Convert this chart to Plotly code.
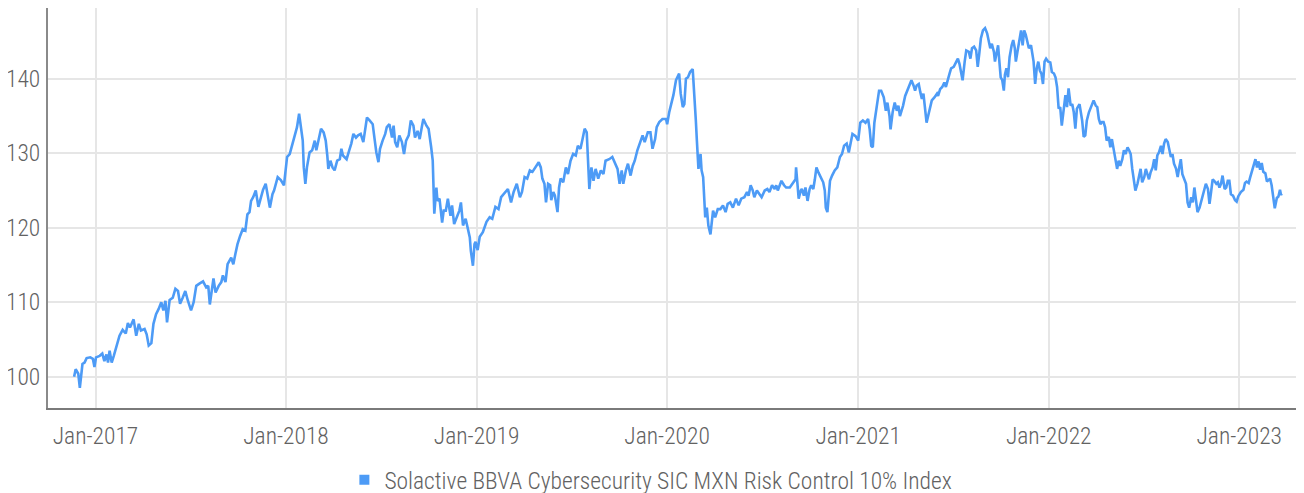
import plotly.graph_objects as go

series_name = "Solactive BBVA Cybersecurity SIC MXN Risk Control 10% Index"

dates = [
"2016-11-21","2016-11-24","2016-11-29","2016-12-02","2016-12-07","2016-12-11","2016-12-15","2016-12-22","2016-12-27","2016-12-30",
"2017-01-02","2017-01-09","2017-01-14","2017-01-18","2017-01-22","2017-01-25","2017-01-28","2017-02-01","2017-02-05","2017-02-10",
"2017-02-16","2017-02-22","2017-02-28","2017-03-04","2017-03-08","2017-03-15","2017-03-20","2017-03-25","2017-03-29","2017-04-05",
"2017-04-09","2017-04-13","2017-04-18","2017-04-22","2017-04-27","2017-05-02","2017-05-07","2017-05-11","2017-05-15","2017-05-18",
"2017-05-23","2017-05-29","2017-06-03","2017-06-08","2017-06-12","2017-06-17","2017-06-22","2017-06-27","2017-07-03","2017-07-08",
"2017-07-13","2017-07-19","2017-07-26","2017-08-01","2017-08-05","2017-08-08","2017-08-12","2017-08-15","2017-08-19","2017-08-25",
"2017-08-30","2017-09-02","2017-09-07","2017-09-11","2017-09-18","2017-09-22","2017-09-26","2017-09-30","2017-10-05","2017-10-10",
"2017-10-15","2017-10-19","2017-10-23","2017-10-26","2017-10-30","2017-11-04","2017-11-09","2017-11-12","2017-11-18","2017-11-23",
"2017-11-28","2017-12-01","2017-12-06","2017-12-09","2017-12-16","2017-12-22","2017-12-28",
"2018-01-03","2018-01-08","2018-01-13","2018-01-18","2018-01-22","2018-01-26","2018-01-29","2018-02-02","2018-02-04","2018-02-07",
"2018-02-10","2018-02-15","2018-02-20","2018-02-25","2018-02-28","2018-03-06","2018-03-09","2018-03-14","2018-03-18","2018-03-21",
"2018-03-23","2018-03-27","2018-03-31","2018-04-04","2018-04-09","2018-04-14","2018-04-17","2018-04-20","2018-04-27","2018-05-02",
"2018-05-06","2018-05-10","2018-05-15","2018-05-19","2018-05-24","2018-05-29","2018-06-01","2018-06-05","2018-06-10","2018-06-16",
"2018-06-20","2018-06-23","2018-06-27","2018-06-30","2018-07-05","2018-07-10","2018-07-13","2018-07-18","2018-07-23","2018-07-26",
"2018-07-29","2018-08-02","2018-08-06","2018-08-11","2018-08-15","2018-08-19","2018-08-24","2018-08-28","2018-09-02","2018-09-05",
"2018-09-10","2018-09-14","2018-09-18","2018-09-21","2018-09-27","2018-10-01","2018-10-06","2018-10-09","2018-10-12","2018-10-16",
"2018-10-18","2018-10-22","2018-10-27","2018-10-30","2018-11-03","2018-11-07","2018-11-12","2018-11-15","2018-11-19","2018-11-25",
"2018-11-29","2018-12-02","2018-12-06","2018-12-11","2018-12-14","2018-12-19","2018-12-21","2018-12-25","2018-12-28","2018-12-30",
"2019-01-03","2019-01-07","2019-01-13","2019-01-20","2019-01-26","2019-01-31","2019-02-06","2019-02-12","2019-02-17","2019-02-23",
"2019-03-02","2019-03-08","2019-03-13","2019-03-19","2019-03-25","2019-03-29","2019-04-03","2019-04-08","2019-04-13","2019-04-18",
"2019-04-24","2019-04-30","2019-05-04","2019-05-07","2019-05-11","2019-05-14","2019-05-18","2019-05-22","2019-05-24","2019-05-28",
"2019-05-31","2019-06-05","2019-06-08","2019-06-11","2019-06-16","2019-06-21","2019-06-25","2019-06-30","2019-07-05","2019-07-10",
"2019-07-14","2019-07-19","2019-07-23","2019-07-27","2019-07-31","2019-08-02","2019-08-05","2019-08-09","2019-08-13","2019-08-17",
"2019-08-22","2019-08-27","2019-09-01","2019-09-05","2019-09-12","2019-09-18","2019-09-23","2019-09-28","2019-10-02","2019-10-06",
"2019-10-09","2019-10-14","2019-10-18","2019-10-23","2019-10-27","2019-10-31","2019-11-05","2019-11-10","2019-11-15","2019-11-19",
"2019-11-25","2019-11-30","2019-12-04","2019-12-09","2019-12-12","2019-12-17","2019-12-23","2019-12-30",
"2020-01-01","2020-01-05","2020-01-10","2020-01-13","2020-01-18","2020-01-21","2020-01-24","2020-01-27","2020-01-31","2020-02-03",
"2020-02-06","2020-02-10","2020-02-14","2020-02-19","2020-02-22","2020-02-25","2020-02-27","2020-03-01","2020-03-05","2020-03-07",
"2020-03-10","2020-03-12","2020-03-14","2020-03-17","2020-03-20","2020-03-24","2020-03-26","2020-03-29","2020-04-02","2020-04-07",
"2020-04-12","2020-04-17","2020-04-22","2020-04-26","2020-05-01","2020-05-06","2020-05-12","2020-05-17","2020-05-22","2020-05-28",
"2020-06-02","2020-06-05","2020-06-09","2020-06-13","2020-06-16","2020-06-21","2020-06-26","2020-06-30","2020-07-06","2020-07-11",
"2020-07-15","2020-07-20","2020-07-25","2020-07-28","2020-07-31","2020-08-07","2020-08-12","2020-08-16","2020-08-23","2020-08-29",
"2020-09-03","2020-09-04","2020-09-06","2020-09-09","2020-09-13","2020-09-15","2020-09-19","2020-09-22","2020-09-26","2020-09-30",
"2020-10-03","2020-10-07","2020-10-10","2020-10-13","2020-10-17","2020-10-21","2020-10-26","2020-10-29","2020-10-31","2020-11-03",
"2020-11-06","2020-11-08","2020-11-12","2020-11-17","2020-11-22","2020-11-27","2020-12-01","2020-12-05","2020-12-10","2020-12-14",
"2020-12-21","2020-12-27",
"2021-01-01","2021-01-05","2021-01-10","2021-01-15","2021-01-20","2021-01-23","2021-01-26","2021-01-29","2021-02-01","2021-02-05",
"2021-02-10","2021-02-14","2021-02-19","2021-02-23","2021-02-26","2021-03-02","2021-03-04","2021-03-08","2021-03-12","2021-03-16",
"2021-03-19","2021-03-22","2021-03-25","2021-03-28","2021-04-01","2021-04-05","2021-04-09","2021-04-13","2021-04-17","2021-04-20",
"2021-04-23","2021-04-27","2021-04-30","2021-05-03","2021-05-06","2021-05-09","2021-05-12","2021-05-16","2021-05-19","2021-05-22",
"2021-05-27","2021-06-01","2021-06-03","2021-06-07","2021-06-11","2021-06-15","2021-06-18","2021-06-21","2021-06-25","2021-06-28",
"2021-07-03","2021-07-08","2021-07-11","2021-07-14","2021-07-17","2021-07-20","2021-07-24","2021-07-27","2021-08-01","2021-08-04",
"2021-08-07","2021-08-11","2021-08-15","2021-08-18","2021-08-21","2021-08-24","2021-08-28","2021-09-01","2021-09-05","2021-09-07",
"2021-09-11","2021-09-14","2021-09-18","2021-09-20","2021-09-23","2021-09-26","2021-09-28","2021-10-01","2021-10-04","2021-10-07",
"2021-10-09","2021-10-12","2021-10-15","2021-10-18","2021-10-22","2021-10-25","2021-10-28","2021-10-30","2021-11-02","2021-11-06",
"2021-11-09","2021-11-12","2021-11-15","2021-11-18","2021-11-21","2021-11-24","2021-11-28","2021-12-01","2021-12-03","2021-12-06",
"2021-12-09","2021-12-12","2021-12-15","2021-12-18","2021-12-21","2021-12-24","2021-12-27","2021-12-31",
"2022-01-04","2022-01-07","2022-01-11","2022-01-14","2022-01-17","2022-01-20","2022-01-23","2022-01-26","2022-01-29","2022-02-02",
"2022-02-05","2022-02-08","2022-02-12","2022-02-15","2022-02-18","2022-02-21","2022-02-24","2022-03-01","2022-03-06","2022-03-09",
"2022-03-12","2022-03-15","2022-03-19","2022-03-22","2022-03-25","2022-03-28","2022-04-01","2022-04-04","2022-04-07","2022-04-10",
"2022-04-13","2022-04-16","2022-04-19","2022-04-22","2022-04-26","2022-04-29","2022-05-02","2022-05-06","2022-05-09","2022-05-12",
"2022-05-15","2022-05-18","2022-05-22","2022-05-25","2022-05-28","2022-06-01","2022-06-04","2022-06-07","2022-06-10","2022-06-13",
"2022-06-16","2022-06-20","2022-06-23","2022-06-26","2022-06-29","2022-07-03","2022-07-06","2022-07-09","2022-07-12","2022-07-15",
"2022-07-19","2022-07-22","2022-07-25","2022-07-28","2022-07-31","2022-08-04","2022-08-07","2022-08-10","2022-08-13","2022-08-17",
"2022-08-20","2022-08-23","2022-08-26","2022-08-29","2022-09-02","2022-09-05","2022-09-08","2022-09-11","2022-09-14","2022-09-18",
"2022-09-21","2022-09-24","2022-09-27","2022-10-01","2022-10-04","2022-10-07","2022-10-10","2022-10-13","2022-10-17","2022-10-20",
"2022-10-23","2022-10-26","2022-10-29","2022-11-02","2022-11-05","2022-11-08","2022-11-11","2022-11-14","2022-11-18","2022-11-21",
"2022-11-24","2022-11-27","2022-11-30","2022-12-04","2022-12-07","2022-12-10","2022-12-13","2022-12-16","2022-12-20","2022-12-24",
"2022-12-27","2022-12-30",
"2023-01-04","2023-01-09","2023-01-12","2023-01-15","2023-01-19","2023-01-22","2023-01-25","2023-01-28","2023-02-01","2023-02-04",
"2023-02-07","2023-02-10","2023-02-13","2023-02-16","2023-02-20","2023-02-23","2023-02-26","2023-03-01","2023-03-04","2023-03-07",
"2023-03-10","2023-03-14","2023-03-17","2023-03-20","2023-03-22","2023-03-23",
]

index_values = [
100.0,101.0,100.4,98.5,101.7,101.9,102.5,102.6,102.4,101.3,
102.6,102.8,103.1,102.1,103.0,101.9,103.5,101.9,102.8,103.9,
105.5,106.3,105.8,107.2,106.6,107.7,105.5,107.1,106.2,106.4,
105.7,104.2,104.5,107.1,108.4,109.1,110.0,108.9,110.2,107.3,
110.3,110.6,111.8,111.5,109.8,110.6,111.5,110.2,108.9,110.0,
112.2,112.5,112.8,112.0,112.2,109.7,112.0,113.2,111.3,112.2,
112.7,113.6,112.7,115.1,116.0,115.1,116.5,117.8,118.9,119.8,
119.6,121.8,122.1,123.6,124.1,125.0,122.8,123.6,125.1,125.9,
123.6,122.7,124.5,125.0,126.8,126.4,125.7,
129.5,129.9,131.3,132.4,133.5,135.3,133.5,131.7,128.1,125.9,
128.1,130.1,130.4,131.7,130.4,132.4,133.3,132.8,131.7,129.7,
127.9,129.0,128.1,127.7,129.0,129.2,130.6,129.7,129.2,130.4,
131.3,132.6,132.1,132.4,132.6,131.5,133.0,134.8,134.4,133.9,
131.7,130.1,128.8,130.6,131.7,132.6,133.5,133.9,132.1,133.7,
131.5,130.8,132.4,131.5,129.9,131.7,132.4,134.4,133.7,132.1,
133.0,131.9,133.5,134.6,133.7,133.3,130.8,129.0,121.9,125.4,
123.6,123.9,120.7,122.3,122.3,123.9,121.6,123.0,120.5,121.6,
122.3,123.4,120.3,121.2,120.1,118.7,116.9,114.9,117.8,118.1,
117.0,118.8,119.4,120.8,121.4,121.2,122.8,122.5,124.1,124.6,
125.2,123.4,124.8,125.9,124.1,124.8,126.8,126.6,127.7,127.5,
128.1,128.8,128.1,126.6,125.9,123.4,125.9,125.7,123.7,124.8,
124.3,122.1,125.4,126.6,126.1,128.1,127.2,129.0,129.9,129.7,
131.0,130.6,131.9,133.3,132.8,129.9,125.2,128.1,126.3,127.9,
126.6,127.7,127.2,129.0,129.2,129.5,128.8,127.9,125.9,127.7,
125.9,127.7,128.6,127.0,128.3,129.0,130.4,131.3,132.4,131.5,
132.8,132.8,130.6,131.9,133.5,134.2,134.6,134.6,
133.9,135.5,136.9,137.8,139.8,140.4,140.7,138.0,136.2,136.6,
140.0,140.2,140.9,141.3,138.4,134.4,131.7,127.9,129.9,127.7,
126.8,124.5,121.4,122.7,120.3,119.1,120.5,122.3,121.4,122.5,
122.5,123.0,122.1,123.2,123.4,122.7,123.9,123.0,123.9,124.1,
124.8,124.3,125.7,125.0,124.1,125.0,124.5,124.1,125.0,125.2,
124.8,125.7,125.2,125.7,125.0,126.3,125.7,125.4,125.4,126.1,
126.5,128.1,125.9,123.9,125.0,125.2,124.3,125.4,123.6,125.2,
125.7,125.2,126.5,128.1,127.4,126.8,126.1,125.0,122.7,122.1,
124.5,126.3,127.0,127.7,128.1,129.5,129.9,131.0,131.3,130.1,
132.6,132.3,
131.7,134.1,134.4,134.1,134.6,133.2,131.0,130.8,134.1,135.9,
138.4,138.4,137.5,135.7,136.8,135.0,133.2,135.5,136.8,135.7,
136.4,135.0,135.7,136.4,137.7,138.4,139.3,139.8,139.1,138.4,
139.1,139.3,138.2,137.3,138.0,136.4,134.1,135.3,136.4,137.1,
137.5,138.0,137.7,138.6,138.9,139.5,138.9,139.8,140.7,141.4,
141.6,142.3,142.7,142.0,141.1,139.8,142.3,143.8,143.6,142.7,
144.1,144.3,143.8,141.6,143.4,145.4,146.5,146.8,146.1,145.4,
144.1,144.7,143.6,142.3,143.6,144.5,142.7,140.2,139.8,138.4,
140.5,141.4,140.2,142.9,144.5,145.2,144.1,142.3,143.6,145.0,
146.5,144.5,146.5,145.9,145.0,144.1,144.5,143.4,142.3,139.3,
141.4,142.3,141.1,140.7,139.3,142.3,142.7,142.3,
142.2,140.9,140.7,140.2,138.9,136.0,136.2,133.7,135.7,137.8,
136.2,138.7,136.4,136.6,135.5,133.3,136.0,136.6,134.4,132.2,
132.4,134.4,135.5,136.0,136.4,137.1,136.4,136.2,134.6,133.9,
134.2,134.2,133.5,131.7,132.2,130.8,131.9,130.4,129.2,127.9,
129.0,128.3,129.2,130.4,129.9,130.8,130.4,129.9,127.9,126.5,
125.0,125.9,127.2,127.9,126.1,126.8,127.9,127.0,126.5,127.4,
128.1,129.2,127.7,129.7,130.1,131.0,129.9,131.3,131.9,131.5,
130.4,129.5,129.9,128.6,127.9,126.8,128.1,129.2,127.2,126.3,
125.9,123.4,122.7,124.1,123.4,125.4,123.6,122.1,122.7,123.6,
124.3,125.4,125.9,125.2,123.2,124.8,126.5,126.3,125.9,126.1,
125.4,125.9,127.0,125.2,125.4,126.3,126.3,124.5,124.3,123.7,
123.5,124.2,
124.8,125.1,126.0,126.2,126.0,126.8,127.5,128.1,129.2,128.1,
128.9,127.8,128.7,127.5,127.3,126.2,126.4,126.6,125.7,123.7,
122.6,124.0,124.2,125.1,124.4,124.6,
]

y_ticks = [100, 110, 120, 130, 140]
x_range = ["2016-10-02", "2023-05-05"]
y_range = [95.8, 149.5]

line_color = "#4d9bf6"
grid_color = "#e6e6e6"
text_color = "#626262"
font_family = "Roboto Condensed, Liberation Sans Narrow, DejaVu Sans Condensed, Roboto, sans-serif"

fig = go.Figure()
fig.add_trace(go.Scatter(
    x=dates, y=index_values, mode="lines",
    line=dict(color=line_color, width=2.6),
    showlegend=False, name=series_name,
))
fig.add_trace(go.Scatter(
    x=[None], y=[None], mode="markers",
    marker=dict(symbol="square", size=10, color=line_color),
    name=series_name, showlegend=True,
))

fig.update_layout(
    width=1304, height=493,
    margin=dict(l=40, r=8, t=0, b=93, autoexpand=False),
    paper_bgcolor="white", plot_bgcolor="white",
    font=dict(family=font_family, color=text_color, size=23.5, weight=300),
    legend=dict(
        orientation="h", x=0.48, xanchor="center",
        y=-0.18, yanchor="middle",
        font=dict(size=23.5, color=text_color, weight=300),
        itemwidth=30, bgcolor="rgba(0,0,0,0)",
    ),
    xaxis=dict(
        type="date", range=x_range, automargin=False,
        tick0="2017-01-01", dtick="M12", tickformat="%b-%Y",
        showgrid=True, gridcolor=grid_color, gridwidth=2,
        showline=True, linecolor="#7a7a7a", linewidth=2,
        ticks="outside", ticklen=6, tickcolor="rgba(0,0,0,0)",
        zeroline=False,
    ),
    yaxis=dict(
        range=y_range, tickvals=y_ticks, automargin=False,
        showgrid=True, gridcolor=grid_color, gridwidth=2,
        showline=True, linecolor="#8a8a8a", linewidth=2,
        ticks="outside", ticklen=1, tickcolor="rgba(0,0,0,0)",
        zeroline=False,
    ),
)

fig.write_html("out.html")
